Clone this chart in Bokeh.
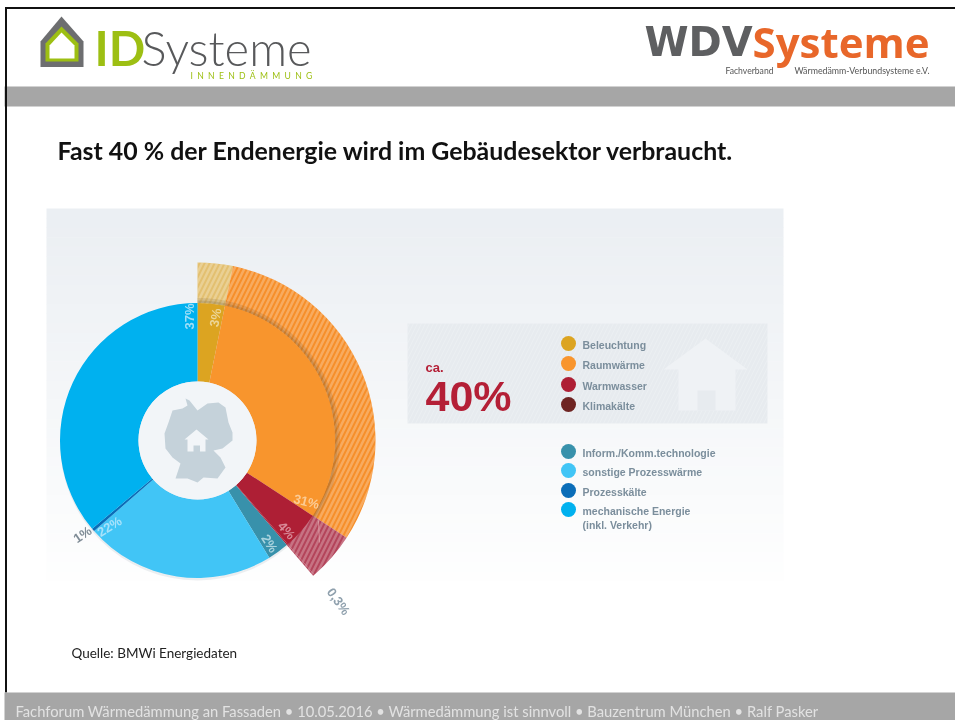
from math import pi
from bokeh.plotting import figure
from bokeh.models import Range1d, ColumnDataSource
from bokeh.core.properties import value
from bokeh.embed import file_html
from bokeh.resources import INLINE

# ---- data ----
segments = ["Beleuchtung", "Raumwärme", "Warmwasser", "Klimakälte",
            "Inform./Komm.technologie", "sonstige Prozesswärme", "Prozesskälte", "mechanische Energie"]
# shares as read from the drawn sector widths (the picture's labels are rounded)
shares = [3.2, 31, 4.4, 0.15, 2.5, 22.3, 0.35, 36.1]
colors = ["#dca421", "#f8952d", "#ae1f35", "#6e2422", "#3891ab", "#41c5f6", "#0a6db8", "#00b1ef"]
wedge_colors = ["#dca421", "#f8952d", "#ae1f35", "#ae1f35", "#3891ab", "#41c5f6", "#0a6db8", "#00b1ef"]
ring_colors = ["#e3c070", "#f68f2a", "#b4445a", "#b4445a"]
pct_labels = ["3%", "31%", "4%", "0,3%", "2%", "22%", "1%", "37%"]
legend_labels = segments
title = "Fast 40 % der Endenergie wird im Gebäudesektor verbraucht."
source_note = "Quelle: BMWi Energiedaten"
footer = "Fachforum Wärmedämmung an Fassaden • 10.05.2016 • Wärmedämmung ist sinnvoll • Bauzentrum München • Ralf Pasker"

p = figure(width=955, height=720, output_backend="svg", toolbar_location=None,
           x_range=Range1d(0, 955), y_range=Range1d(720, 0),
           x_axis_type=None, y_axis_type=None, min_border=0,
           outline_line_color=None, background_fill_color="white", border_fill_color="white")
p.grid.visible = False
p.styles = {"position": "fixed", "left": "0px", "top": "0px"}

def txt(x, y, s, size, color, font="Lato", style="normal", align="left", base="middle", angle=0, alpha=1.0):
    p.text([x], [y], text=[s], text_font=value(font), text_font_size=value(f"{size}px"),
           text_font_style=style, text_color=color, text_align=align, text_baseline=base,
           angle=angle, text_alpha=alpha)

# ---- slide frame ----
p.quad(left=[4], right=[955], top=[86], bottom=[106], fill_color="#a6a6a6", line_color=None)
p.quad(left=[4.5], right=[6.5], top=[6.5], bottom=[692], fill_color="#111111", line_color=None)
p.quad(left=[4.5], right=[955], top=[6.5], bottom=[8.5], fill_color="#111111", line_color=None)
p.quad(left=[4], right=[955], top=[692], bottom=[720], fill_color="#a6a6a6", line_color=None)
txt(15, 710, footer, 14.76, "#e2e2e2")

# ---- ID logo ----
p.patch([61, 83, 83, 40, 40], [16, 41, 66.5, 66.5, 41], fill_color="#6d6e70", line_color=None)
p.patch([61, 78, 78, 45, 45], [26, 43, 61, 61, 43], fill_color="#9dbf13", line_color=None)
p.patch([61, 74, 74, 49, 49], [32, 45, 58, 58, 45], fill_color="white", line_color=None)
txt(94, 47, "ID", 48, "#9dbf13", font="Lato", style="bold")
txt(141, 47, "Systeme", 47, "#58595b", font="Lato Light")
txt(190, 75, "I\u2002N\u2002N\u2002E\u2002N\u2002D\u2002Ä\u2002M\u2002M\u2002U\u2002N\u2002G", 8.6, "#9dbf13", font="Lato")

# ---- WDV logo ----
txt(644, 41, "WDV", 40, "#5e5f61", font="DejaVu Sans", style="bold")
txt(752, 41, "Systeme", 42, "#e8672a", font="Open Sans", style="bold")
txt(725, 70, "Fachverband", 8.6, "#555555", font="Lato")
txt(794, 70, "Wärmedämm-Verbundsysteme e.V.", 8.8, "#555555", font="Lato")

# ---- headline / source ----
txt(57, 149, title, 24.9, "#111111", style="bold")
txt(71, 652, source_note, 13.5, "#222222")

# ---- gradient panel ----
steps = 40
for i in range(steps):
    t = i / (steps - 1)
    r = int(235 + (255 - 235) * t); g = int(239 + (255 - 239) * t); b = int(243 + (255 - 243) * t)
    y0 = 208 + (590 - 208) * i / steps
    p.quad(left=[46], right=[783], top=[y0], bottom=[y0 + (590 - 208) / steps + 0.5],
           fill_color=f"#{r:02x}{g:02x}{b:02x}", line_color=None)

# ---- donut ----
cx, cy = 197, 440
R_in, R_out, R_ring = 59, 137.5, 178
total = sum(shares)
cum, starts, ends = 0, [], []
for v in shares:
    starts.append(pi / 2 - cum / total * 2 * pi)
    cum += v
    ends.append(pi / 2 - cum / total * 2 * pi)

# soft shadow
p.circle([cx], [cy + 2.5], radius=R_out, fill_color="#9aa7b0", fill_alpha=0.18, line_color=None)

# hatched outer ring (buildings share)
ring = ColumnDataSource(dict(x=[cx] * 4, y=[cy] * 4, s=starts[:4], e=ends[:4], c=ring_colors))
p.annular_wedge("x", "y", inner_radius=R_out - 1, outer_radius=R_ring, start_angle="s", end_angle="e",
                direction="clock", fill_color="c", line_color=None, source=ring,
                hatch_pattern="right_diagonal_line", hatch_color="#ffffff", hatch_alpha=0.25,
                hatch_scale=10, hatch_weight=2.5)
# ring inner shadow
p.annular_wedge([cx], [cy], inner_radius=R_out, outer_radius=R_out + 5, start_angle=starts[0], end_angle=ends[1],
                direction="clock", fill_color="#5a4a2a", fill_alpha=0.14, line_color=None)
p.annular_wedge([cx], [cy], inner_radius=R_out, outer_radius=R_out + 2.5, start_angle=starts[0], end_angle=ends[1],
                direction="clock", fill_color="#5a4a2a", fill_alpha=0.16, line_color=None)
p.line([318, 319], [520, 542], line_color="#e9b7bd", line_alpha=0.6, line_width=1)

ds = ColumnDataSource(dict(x=[cx] * 8, y=[cy] * 8, s=starts, e=ends, c=wedge_colors))
p.annular_wedge("x", "y", inner_radius=R_in, outer_radius=R_out, start_angle="s", end_angle="e",
                direction="clock", fill_color="c", line_color=None, source=ds)

# centre disc with map
p.circle([cx], [cy], radius=R_in, fill_color="#f2f5f8", line_color=None)
gx = [185, 189, 197, 207, 218, 225, 228, 232, 232, 222, 213, 220, 225, 217, 203, 197, 187, 175, 180, 172, 165, 164, 168, 172, 182, 187]
gy = [398, 400, 410, 403, 402, 407, 422, 432, 440, 448, 450, 457, 467, 478, 477, 482, 478, 478, 463, 457, 448, 433, 422, 410, 408, 405]
p.patch(gx, gy, fill_color="#c5d2da", line_color=None)
p.patch([196, 208, 205, 205, 199.5, 199.5, 193, 193, 187, 187, 184], [429, 439, 439, 451, 451, 445, 445, 451, 451, 439, 439],
        fill_color="#f2f5f8", line_color=None)

# percent labels
lab_x = [215, 306, 286, 338, 269, 109, 82, 189]
lab_y = [317, 501, 530, 601, 543, 526, 534, 316]
lab_a = [1.4, -0.25, -0.85, -0.95, -1.0, 0.55, 0.6, pi / 2]
lab_c = ["#ecd596", "#fbcb95", "#d98a98", "#8fa0ad", "#a9d3de", "#a8e2fa", "#7f8c96", "#a0dff8"]
for x, y, s, a, c in zip(lab_x, lab_y, pct_labels, lab_a, lab_c):
    txt(x, y, s, 13, c, font="Liberation Sans", align="center", angle=a, style="bold")

# ---- key box ----
p.quad(left=[407], right=[767], top=[323], bottom=[423], fill_color="#e7ebef", line_color=None,
       hatch_pattern="right_diagonal_line", hatch_color="#ffffff", hatch_alpha=0.18, hatch_scale=8, hatch_weight=1)
p.patch([705, 747, 735, 735, 678, 678, 663],
        [338, 369, 369, 410, 410, 369, 369], fill_color="#eff2f5", line_color=None)
p.quad(left=[697], right=[715], top=[390], bottom=[410], fill_color="#e7ebef", line_color=None)
txt(425, 367, "ca.", 13, "#b41f36", font="Liberation Sans", style="bold")
txt(425, 395, "40%", 43, "#b41f36", font="Liberation Sans", style="bold")

# ---- legend ----
leg_y = [343, 363, 384, 404, 451, 470, 490, 509]
p.circle([568] * 8, leg_y, radius=7.5, fill_color=colors, line_color=None)
for y, s in zip(leg_y, legend_labels):
    txt(582, y + 1, s, 10.5, "#7b8e9c", font="Liberation Sans", style="bold")
txt(582, 524, "(inkl. Verkehr)", 10.5, "#7b8e9c", font="Liberation Sans", style="bold")

open("out.html", "w").write(file_html(p, INLINE))
